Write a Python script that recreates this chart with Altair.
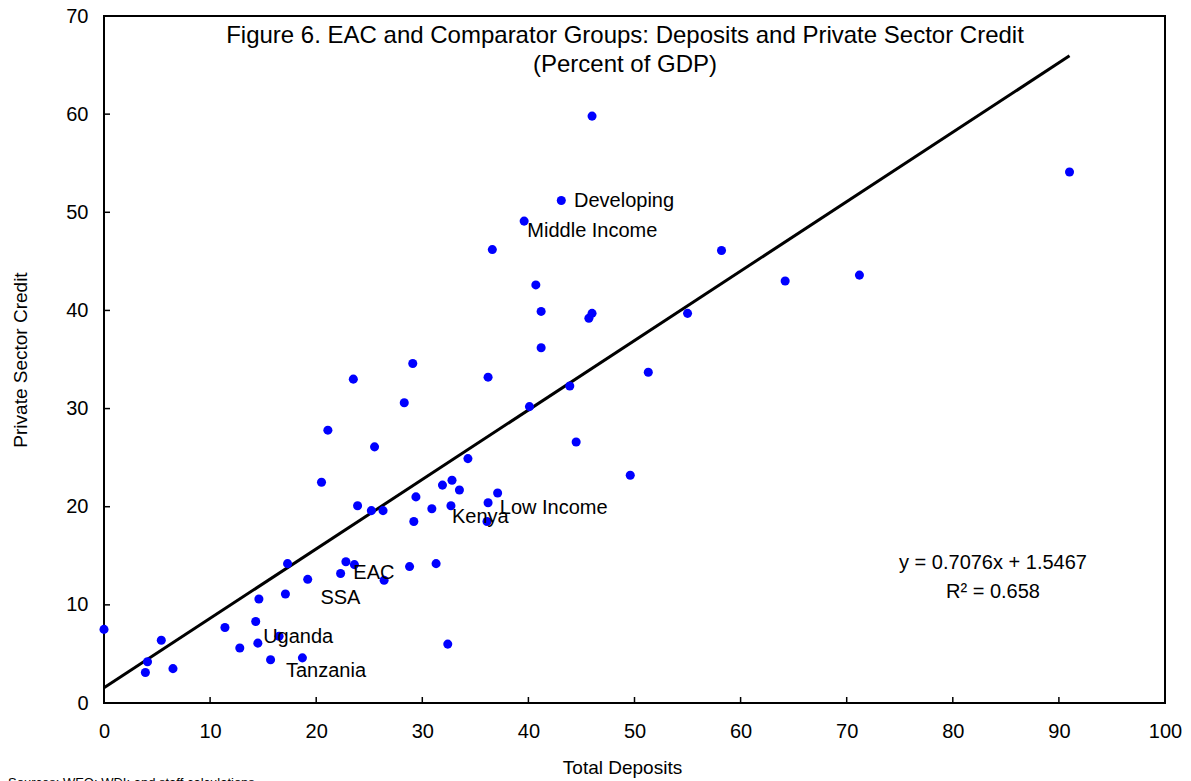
import altair as alt
import pandas as pd

# ---- data ----
deposits = [0.0, 4.1, 3.9, 5.4, 6.5, 11.4, 14.3, 12.8, 14.5, 15.7, 16.5, 18.7, 14.6, 17.1, 19.2,
            17.3, 22.3, 22.8, 23.6, 26.4, 28.8, 31.3, 32.4, 20.5, 21.1, 23.5, 23.9, 25.2, 26.3,
            25.5, 28.3, 29.1, 29.4, 29.2, 30.9, 31.9, 32.8, 33.5, 32.7, 34.3, 36.2, 36.2, 36.1,
            37.1, 36.6, 39.6, 43.1, 40.7, 41.2, 41.2, 40.1, 43.9, 44.5, 46.0, 45.7, 46.0, 49.6,
            51.3, 55.0, 58.2, 64.2, 71.2, 91.0]
credit = [7.5, 4.2, 3.1, 6.4, 3.5, 7.7, 8.3, 5.6, 6.1, 4.4, 6.8, 4.6, 10.6, 11.1, 12.6,
          14.2, 13.2, 14.4, 14.1, 12.5, 13.9, 14.2, 6.0, 22.5, 27.8, 33.0, 20.1, 19.6, 19.6,
          26.1, 30.6, 34.6, 21.0, 18.5, 19.8, 22.2, 22.7, 21.7, 20.1, 24.9, 33.2, 20.4, 18.5,
          21.4, 46.2, 49.1, 51.2, 42.6, 39.9, 36.2, 30.2, 32.3, 26.6, 39.7, 39.2, 59.8, 23.2,
          33.7, 39.7, 46.1, 43.0, 43.6, 54.1]

label_text = ["Developing", "Middle Income", "Low Income", "Kenya", "EAC", "SSA", "Uganda", "Tanzania"]
label_x = [44.3, 39.9, 37.3, 32.8, 23.5, 20.4, 15.0, 17.15]
label_y = [51.15, 48.1, 19.9, 18.95, 13.25, 10.7, 6.73, 3.26]

fit_slope = 0.7076
fit_intercept = 1.5467
fit_text = ["y = 0.7076x + 1.5467", "R\u00b2 = 0.658"]

x_ticks = list(range(0, 101, 10))
y_ticks = list(range(0, 71, 10))
inner_x_ticks = x_ticks[1:-1]
inner_y_ticks = y_ticks[1:-1]

title_lines = ["Figure 6. EAC and Comparator Groups: Deposits and Private Sector Credit",
               "(Percent of GDP)"]
source_text = "Sources: WEO; WDI; and staff calculations."

W, H = 1061, 687
FONT = "Liberation Sans"

xs = alt.Scale(domain=[0, 100], nice=False, zero=False)
ys = alt.Scale(domain=[0, 70], nice=False, zero=False)
x_axis = alt.Axis(values=x_ticks, title="Total Deposits", titleX=518, format="d", labelFlush=False)
y_axis = alt.Axis(values=y_ticks, title="Private Sector Credit", format="d", labelFlush=False)

pts = pd.DataFrame({"dep": deposits, "cred": credit})
fit_df = pd.DataFrame({"dep": [min(deposits), max(deposits)]})
fit_df["cred"] = fit_slope * fit_df["dep"] + fit_intercept
lab_df = pd.DataFrame({"dep": label_x, "cred": label_y, "label": label_text})
xt_df = pd.DataFrame({"dep": inner_x_ticks})
yt_df = pd.DataFrame({"cred": inner_y_ticks})
one = pd.DataFrame({"k": [0]})

X = alt.X("dep:Q", scale=xs, axis=x_axis)
Y = alt.Y("cred:Q", scale=ys, axis=y_axis)

points = alt.Chart(pts).mark_circle(size=82, color="#0000FF", opacity=1).encode(x=X, y=Y)
line = alt.Chart(fit_df).mark_line(color="black", strokeWidth=3).encode(x=X, y=Y)
labels = alt.Chart(lab_df).mark_text(
    align="left", baseline="middle", font=FONT, fontSize=20, color="black"
).encode(x=X, y=Y, text="label:N")

xticks = alt.Chart(xt_df).mark_rule(color="black", strokeWidth=1.5).encode(
    x=X, y=alt.value(H), y2=alt.value(H - 6))
yticks = alt.Chart(yt_df).mark_rule(color="black", strokeWidth=1.5).encode(
    y=Y, x=alt.value(0), x2=alt.value(6))

title = alt.Chart(one).mark_text(
    text=title_lines, align="center", baseline="middle", font=FONT, fontSize=24,
    color="black", lineHeight=29
).encode(x=alt.value(521), y=alt.value(20))

eq = alt.Chart(one).mark_text(
    text=fit_text, align="center", baseline="middle", font=FONT, fontSize=20,
    color="black", lineHeight=29
).encode(x=alt.value(889), y=alt.value(547))

source = alt.Chart(one).mark_text(
    text=source_text, align="left", baseline="top", font=FONT, fontSize=13, color="black"
).encode(x=alt.value(-96), y=alt.value(761))

chart = alt.layer(line, points, xticks, yticks, labels, title, eq, source).properties(
    width=W, height=H,
    autosize=alt.AutoSizeParams(type="none"),
    padding={"left": 96, "top": 8, "right": 18, "bottom": 80},
).configure_view(
    stroke="black", strokeWidth=2
).configure_axis(
    domain=False, ticks=False, tickSize=0, grid=False,
    labelFont=FONT, labelFontSize=20, labelColor="black",
    titleFont=FONT, titleFontSize=19, titleFontWeight="normal", titleColor="black",
).configure_axisX(
    labelPadding=18, titlePadding=17
).configure_axisY(
    labelPadding=16, titlePadding=35
)

chart.save("out.html", embed_options={"renderer": "svg", "actions": False})
